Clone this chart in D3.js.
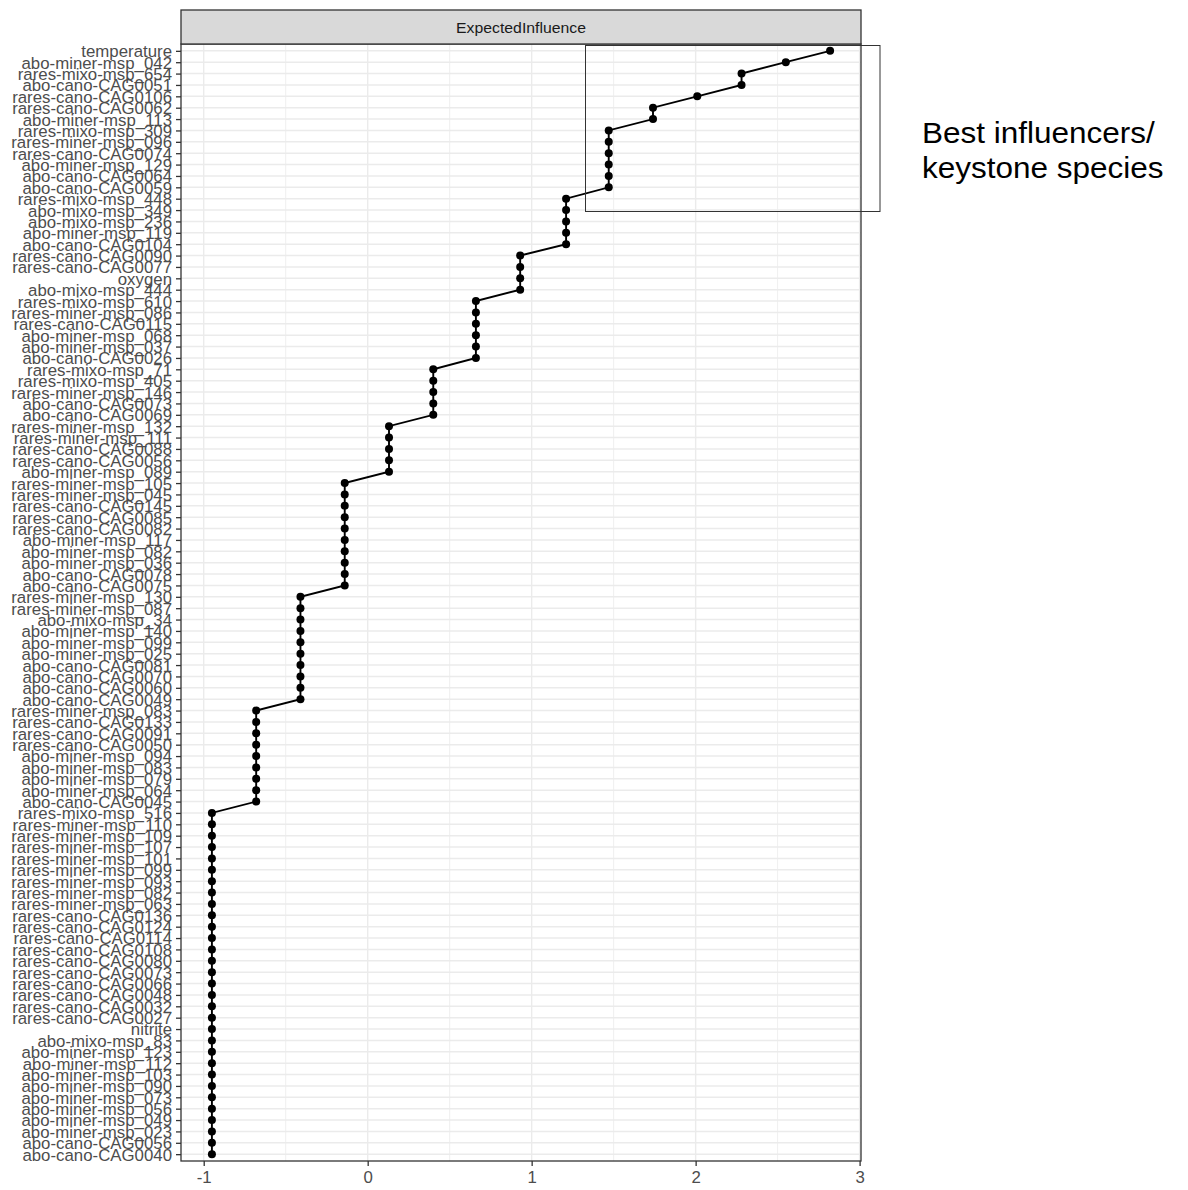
<!DOCTYPE html>
<html>
<head>
<meta charset="utf-8">
<script src="https://cdn.jsdelivr.net/npm/d3@7"></script>
<style>
  html, body { margin: 0; padding: 0; background: #ffffff; }
  svg { display: block; font-family: "Liberation Sans", Arial, Helvetica, sans-serif; }
</style>
</head>
<body>
<svg id="chart" width="1188" height="1190"></svg>
<script>
// Network nodes, ordered from highest to lowest expected influence
const nodes = [
  "temperature", "abo-miner-msp_042", "rares-mixo-msp_654", "abo-cano-CAG0051",
  "rares-cano-CAG0106", "rares-cano-CAG0062", "abo-miner-msp_113", "rares-mixo-msp_309",
  "rares-miner-msp_096", "rares-cano-CAG0074", "abo-miner-msp_129", "abo-cano-CAG0064",
  "abo-cano-CAG0059", "rares-mixo-msp_448", "abo-mixo-msp_349", "abo-mixo-msp_236",
  "abo-miner-msp_119", "abo-cano-CAG0104", "rares-cano-CAG0090", "rares-cano-CAG0077",
  "oxygen", "abo-mixo-msp_444", "rares-mixo-msp_610", "rares-miner-msp_086",
  "rares-cano-CAG0115", "abo-miner-msp_068", "abo-miner-msp_037", "abo-cano-CAG0026",
  "rares-mixo-msp_71", "rares-mixo-msp_405", "rares-miner-msp_146", "abo-cano-CAG0073",
  "abo-cano-CAG0069", "rares-miner-msp_132", "rares-miner-msp_111", "rares-cano-CAG0088",
  "rares-cano-CAG0056", "abo-miner-msp_089", "rares-miner-msp_105", "rares-miner-msp_045",
  "rares-cano-CAG0145", "rares-cano-CAG0085", "rares-cano-CAG0082", "abo-miner-msp_117",
  "abo-miner-msp_082", "abo-miner-msp_036", "abo-cano-CAG0078", "abo-cano-CAG0075",
  "rares-miner-msp_130", "rares-miner-msp_087", "abo-mixo-msp_34", "abo-miner-msp_140",
  "abo-miner-msp_099", "abo-miner-msp_025", "abo-cano-CAG0081", "abo-cano-CAG0070",
  "abo-cano-CAG0060", "abo-cano-CAG0049", "rares-miner-msp_083", "rares-cano-CAG0133",
  "rares-cano-CAG0091", "rares-cano-CAG0050", "abo-miner-msp_094", "abo-miner-msp_083",
  "abo-miner-msp_079", "abo-miner-msp_064", "abo-cano-CAG0045", "rares-mixo-msp_516",
  "rares-miner-msp_110", "rares-miner-msp_109", "rares-miner-msp_107", "rares-miner-msp_101",
  "rares-miner-msp_099", "rares-miner-msp_093", "rares-miner-msp_082", "rares-miner-msp_063",
  "rares-cano-CAG0136", "rares-cano-CAG0124", "rares-cano-CAG0114", "rares-cano-CAG0108",
  "rares-cano-CAG0080", "rares-cano-CAG0073", "rares-cano-CAG0066", "rares-cano-CAG0048",
  "rares-cano-CAG0032", "rares-cano-CAG0027", "nitrite", "abo-mixo-msp_83",
  "abo-miner-msp_123", "abo-miner-msp_112", "abo-miner-msp_103", "abo-miner-msp_090",
  "abo-miner-msp_073", "abo-miner-msp_056", "abo-miner-msp_049", "abo-miner-msp_023",
  "abo-cano-CAG0056", "abo-cano-CAG0040"
];

// Standardised expected influence, one value per node (same order)
const influence = [
  2.82, 2.55, 2.28, 2.28,
  2.01, 1.74, 1.74, 1.47,
  1.47, 1.47, 1.47, 1.47,
  1.47, 1.21, 1.21, 1.21,
  1.21, 1.21, 0.93, 0.93,
  0.93, 0.93, 0.66, 0.66,
  0.66, 0.66, 0.66, 0.66,
  0.40, 0.40, 0.40, 0.40,
  0.40, 0.13, 0.13, 0.13,
  0.13, 0.13, -0.14, -0.14,
  -0.14, -0.14, -0.14, -0.14,
  -0.14, -0.14, -0.14, -0.14,
  -0.41, -0.41, -0.41, -0.41,
  -0.41, -0.41, -0.41, -0.41,
  -0.41, -0.41, -0.68, -0.68,
  -0.68, -0.68, -0.68, -0.68,
  -0.68, -0.68, -0.68, -0.95,
  -0.95, -0.95, -0.95, -0.95,
  -0.95, -0.95, -0.95, -0.95,
  -0.95, -0.95, -0.95, -0.95,
  -0.95, -0.95, -0.95, -0.95,
  -0.95, -0.95, -0.95, -0.95,
  -0.95, -0.95, -0.95, -0.95,
  -0.95, -0.95, -0.95, -0.95,
  -0.95, -0.95
];

const xMajorTicks = [-1, 0, 1, 2, 3];
const xMinorTicks = [-0.5, 0.5, 1.5, 2.5];
const stripTitle = "ExpectedInfluence";
const noteLines = ["Best influencers/", "keystone species"];

const data = nodes.map((n, i) => ({ node: n, value: influence[i] }));

// Layout
const panel = { left: 181, right: 861, top: 44, bottom: 1161 };
const strip = { top: 10, bottom: 44 };
const stretch = 1.02;         // slight horizontal text stretch
const fontSize = 16.5;
const txtCol = "#4D4D4D";
const frameCol = "#333333";
const gridCol = "#EBEBEB";

const svg = d3.select("#chart");

// Scales with ggplot-like expansion
const vMin = d3.min(influence), vMax = d3.max(influence);
const pad = (vMax - vMin) * 0.05;
const x = d3.scaleLinear().domain([vMin - pad, vMax + pad]).range([panel.left, panel.right]);
const y = d3.scalePoint().domain(nodes).range([panel.top, panel.bottom]).padding(0.6);

// Panel background
svg.append("rect")
  .attr("x", panel.left).attr("y", panel.top)
  .attr("width", panel.right - panel.left).attr("height", panel.bottom - panel.top)
  .attr("fill", "#ffffff");

// Grid
const grid = svg.append("g");
grid.selectAll("line.hgrid").data(nodes).join("line")
  .attr("x1", panel.left).attr("x2", panel.right)
  .attr("y1", d => y(d)).attr("y2", d => y(d))
  .attr("stroke", gridCol).attr("stroke-width", 1.4);
grid.selectAll("line.vminor").data(xMinorTicks).join("line")
  .attr("x1", d => x(d)).attr("x2", d => x(d))
  .attr("y1", panel.top).attr("y2", panel.bottom)
  .attr("stroke", gridCol).attr("stroke-width", 0.8);
grid.selectAll("line.vmajor").data(xMajorTicks).join("line")
  .attr("x1", d => x(d)).attr("x2", d => x(d))
  .attr("y1", panel.top).attr("y2", panel.bottom)
  .attr("stroke", gridCol).attr("stroke-width", 1.4);

// Path through all nodes in rank order
const line = d3.line().x(d => x(d.value)).y(d => y(d.node));
svg.append("path")
  .datum(data)
  .attr("d", line)
  .attr("fill", "none")
  .attr("stroke", "#000000")
  .attr("stroke-width", 1.9);

svg.append("g").selectAll("circle").data(data).join("circle")
  .attr("cx", d => x(d.value))
  .attr("cy", d => y(d.node))
  .attr("r", 4)
  .attr("fill", "#000000");

// Panel border
svg.append("rect")
  .attr("x", panel.left).attr("y", panel.top)
  .attr("width", panel.right - panel.left).attr("height", panel.bottom - panel.top)
  .attr("fill", "none").attr("stroke", frameCol).attr("stroke-width", 1.3);

// Facet strip
svg.append("rect")
  .attr("x", panel.left).attr("y", strip.top)
  .attr("width", panel.right - panel.left).attr("height", strip.bottom - strip.top)
  .attr("fill", "#D9D9D9").attr("stroke", frameCol).attr("stroke-width", 1.3);
svg.append("text")
  .attr("transform", `translate(${(panel.left + panel.right) / 2},${(strip.top + strip.bottom) / 2 + 5.5}) scale(${stretch},1)`)
  .attr("text-anchor", "middle")
  .attr("font-size", 15.5)
  .attr("fill", "#1A1A1A")
  .text(stripTitle);

// Y axis
const yAxis = svg.append("g")
  .attr("transform", `translate(${panel.left},0)`)
  .call(d3.axisLeft(y).tickSize(5).tickPadding(4));
yAxis.select(".domain").remove();
yAxis.selectAll(".tick line").attr("stroke", frameCol).attr("stroke-width", 1.3);
yAxis.selectAll(".tick text")
  .attr("x", -9 / stretch)
  .attr("dy", "0.36em")
  .attr("transform", `scale(${stretch},1)`)
  .attr("font-size", fontSize)
  .attr("font-family", "Liberation Sans, Arial, sans-serif")
  .attr("fill", txtCol);

// X axis
const xAxis = svg.append("g")
  .attr("transform", `translate(0,${panel.bottom})`)
  .call(d3.axisBottom(x).tickValues(xMajorTicks).tickFormat(d3.format("d")).tickSize(5).tickPadding(4));
xAxis.select(".domain").remove();
xAxis.selectAll(".tick line").attr("stroke", frameCol).attr("stroke-width", 1.3);
xAxis.selectAll(".tick text")
  .attr("y", 0)
  .attr("dy", 0)
  .attr("transform", `translate(0,22) scale(${stretch},1)`)
  .attr("font-size", fontSize)
  .attr("font-family", "Liberation Sans, Arial, sans-serif")
  .attr("fill", txtCol)
  .text(d => d < 0 ? "-" + Math.abs(d) : String(d));

// Highlight box around the top-ranked nodes
svg.append("rect")
  .attr("x", 585.5).attr("y", 45.5)
  .attr("width", 294.5).attr("height", 166)
  .attr("fill", "none")
  .attr("stroke", frameCol)
  .attr("stroke-width", 1);

// Side note
const note = svg.append("g").attr("transform", "translate(922,0)");
noteLines.forEach((t, i) => {
  note.append("text")
    .attr("transform", `translate(0,${143 + i * 35}) scale(1.05,1)`)
    .attr("font-size", 30)
    .attr("fill", "#000000")
    .text(t);
});
</script>
</body>
</html>
